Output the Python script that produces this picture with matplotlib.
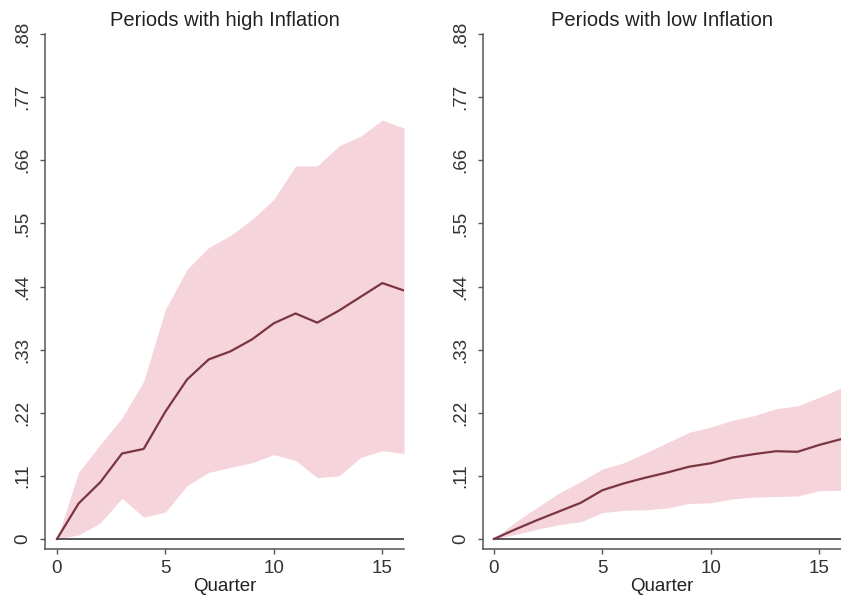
import matplotlib
matplotlib.use("Agg")
import matplotlib.pyplot as plt

plt.rcParams['font.family'] = ['Liberation Sans', 'DejaVu Sans']

quarters = list(range(17))

# periods with high inflation
high_irf = [0, 0.062, 0.099, 0.149, 0.157, 0.222, 0.278, 0.313, 0.327, 0.348,
            0.376, 0.393, 0.377, 0.398, 0.422, 0.446, 0.433]
high_upper = [0, 0.116, 0.165, 0.211, 0.275, 0.400, 0.470, 0.508, 0.529, 0.557,
              0.592, 0.650, 0.650, 0.685, 0.702, 0.730, 0.716]
high_lower = [0, 0.007, 0.028, 0.071, 0.038, 0.047, 0.093, 0.116, 0.125, 0.133,
              0.147, 0.137, 0.107, 0.110, 0.142, 0.154, 0.149]

# periods with low inflation
low_irf = [0, 0.017, 0.033, 0.048, 0.063, 0.085, 0.097, 0.107, 0.116, 0.126,
           0.132, 0.142, 0.148, 0.153, 0.152, 0.164, 0.174]
low_upper = [0, 0.030, 0.055, 0.080, 0.100, 0.122, 0.133, 0.150, 0.168, 0.186,
             0.195, 0.207, 0.215, 0.227, 0.232, 0.247, 0.263]
low_lower = [0, 0.008, 0.017, 0.025, 0.030, 0.046, 0.050, 0.051, 0.054, 0.062,
             0.063, 0.070, 0.073, 0.074, 0.075, 0.084, 0.085]

yticks = [0, 0.11, 0.22, 0.33, 0.44, 0.55, 0.66, 0.77, 0.88]
ytick_labels = ['0', '.11', '.22', '.33', '.44', '.55', '.66', '.77', '.88']
titles = ['Periods with high Inflation', 'Periods with low Inflation']

band_col = '#f5d4dc'
line_col = '#7b3540'
axis_col = '#555555'

fig = plt.figure(figsize=(8.41, 6.01), dpi=100)
ax1 = fig.add_axes([45/841, 52/601, 359/841, 515/601])
ax2 = fig.add_axes([483/841, 52/601, 358/841, 515/601])

panels = [(ax1, high_irf, high_upper, high_lower, -0.55),
          (ax2, low_irf, low_upper, low_lower, -0.5)]

for i, (ax, irf, up, lo, xl) in enumerate(panels):
    ax.fill_between(quarters, lo, up, color=band_col, lw=0)
    ax.plot([0, 16], [0, 0], color='#3a3a3a', lw=1.2)
    ax.plot(quarters, irf, color=line_col, lw=1.6)
    ax.set_xlim(xl, 16)
    ax.set_ylim(-0.0174, 0.88)
    ax.set_yticks(yticks)
    ax.set_yticklabels(ytick_labels, rotation=90, va='center')
    ax.set_xticks([0, 5, 10, 15])
    ax.set_xlabel('Quarter', fontsize=13.5, labelpad=1, color='#222222')
    ax.set_title(titles[i], fontsize=14.5, pad=6, color='#222222')
    ax.tick_params(axis='both', colors=axis_col, labelcolor='#333333',
                   labelsize=13.5, length=3.6, width=1)
    ax.tick_params(axis='y', pad=6)
    ax.tick_params(axis='x', pad=4)
    for s in ['top', 'right']:
        ax.spines[s].set_visible(False)
    for s in ['left', 'bottom']:
        ax.spines[s].set_color(axis_col)
        ax.spines[s].set_linewidth(1.1)

fig.savefig('out.png', dpi=100, facecolor='white')
